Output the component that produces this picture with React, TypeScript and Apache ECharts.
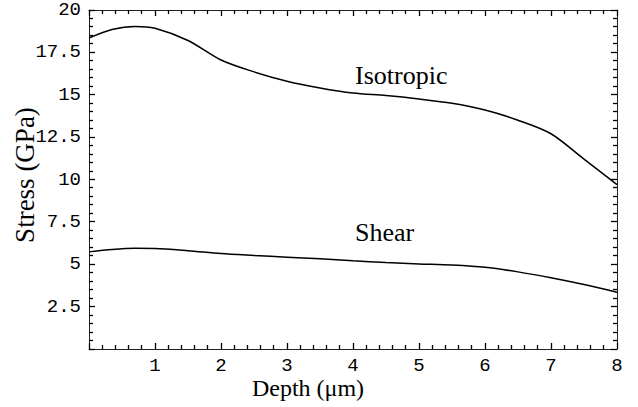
import React, { useEffect, useRef } from "react";
import * as echarts from "echarts";

const depth = [0, 0.35, 0.7, 1, 1.5, 2, 2.5, 3, 3.5, 4, 4.5, 5, 5.5, 6, 6.5, 7, 7.5, 8];
const isotropic = [18.35, 18.85, 19.03, 18.92, 18.2, 17.05, 16.35, 15.8, 15.4, 15.1, 14.95, 14.75, 14.5, 14.1, 13.5, 12.7, 11.2, 9.7];
const shear = [5.73, 5.87, 5.94, 5.93, 5.8, 5.63, 5.52, 5.42, 5.32, 5.2, 5.1, 5.02, 4.95, 4.82, 4.55, 4.2, 3.8, 3.35];
const xTicks = [0, 1, 2, 3, 4, 5, 6, 7, 8];
const yTicks = [0, 2.5, 5, 7.5, 10, 12.5, 15, 17.5, 20];
const minorSplit = 5;

const mono = "'Liberation Mono', 'DejaVu Sans Mono', monospace";
const serif = "'Liberation Serif', 'DejaVu Serif', serif";

export default function App() {
  const ref = useRef<HTMLDivElement>(null);
  useEffect(() => {
    if (!ref.current) return;
    const chart = echarts.init(ref.current, undefined, { renderer: "svg" });
    const xMin = xTicks[0], xMax = xTicks[xTicks.length - 1];
    const yMin = yTicks[0], yMax = yTicks[yTicks.length - 1];

    // tick list: [axis (0=x,1=y), value, major(1)/minor(0)]
    const tickData: number[][] = [];
    const addTicks = (axis: number, ticks: number[]) => {
      for (let i = 0; i < ticks.length; i++) {
        tickData.push([axis, ticks[i], 1]);
        if (i < ticks.length - 1) {
          const step = (ticks[i + 1] - ticks[i]) / minorSplit;
          for (let k = 1; k < minorSplit; k++) tickData.push([axis, ticks[i] + step * k, 0]);
        }
      }
    };
    addTicks(0, xTicks);
    addTicks(1, yTicks);

    const mk = (pos: string, min: number, max: number, interval: number, label: any) => ({
      type: "value",
      position: pos,
      min,
      max,
      interval,
      axisLine: { show: true, onZero: false, lineStyle: { color: "#222", width: 1 } },
      axisTick: { show: false },
      minorTick: { show: false },
      splitLine: { show: false },
      minorSplitLine: { show: false },
      axisLabel: label,
    });
    const xLabel = {
      show: true,
      fontFamily: mono,
      fontSize: 19,
      color: "#000",
      margin: 7,
      formatter: (v: number) => (v === xMin ? "" : String(v)),
    };
    const yLabel = {
      show: true,
      fontFamily: mono,
      fontSize: 19,
      color: "#000",
      margin: 8,
      formatter: (v: number) => (v === yMin ? "" : String(v)),
    };

    const crisp = (v: number) => Math.round(v - 0.5) + 0.5;

    chart.setOption({
      animation: false,
      backgroundColor: "#fff",
      grid: { left: 89, right: 21, top: 10, bottom: 58, containLabel: false },
      xAxis: [mk("bottom", xMin, xMax, 1, xLabel), mk("top", xMin, xMax, 1, { show: false })],
      yAxis: [mk("left", yMin, yMax, 2.5, yLabel), mk("right", yMin, yMax, 2.5, { show: false })],
      series: [
        {
          name: "Isotropic",
          type: "line",
          xAxisIndex: 0,
          yAxisIndex: 0,
          data: depth.map((d, i) => [d, isotropic[i]]),
          smooth: 0.3,
          showSymbol: false,
          symbol: "none",
          lineStyle: { color: "#000", width: 1.5 },
        },
        {
          name: "Shear",
          type: "line",
          xAxisIndex: 0,
          yAxisIndex: 0,
          data: depth.map((d, i) => [d, shear[i]]),
          smooth: 0.3,
          showSymbol: false,
          symbol: "none",
          lineStyle: { color: "#000", width: 1.5 },
        },
        {
          name: "ticks",
          type: "custom",
          xAxisIndex: 0,
          yAxisIndex: 0,
          clip: false,
          silent: true,
          data: tickData,
          renderItem: (_params: any, api: any) => {
            const axis = api.value(0);
            const v = api.value(1);
            const len = api.value(2) === 1 ? 6 : 4;
            const style = { stroke: "#000", lineWidth: 1.3 };
            if (axis === 0) {
              const b = api.coord([v, yMin]);
              const t = api.coord([v, yMax]);
              const x = crisp(b[0]);
              return {
                type: "group",
                children: [
                  { type: "line", shape: { x1: x, y1: b[1], x2: x, y2: b[1] - len }, style },
                  { type: "line", shape: { x1: x, y1: t[1], x2: x, y2: t[1] + len }, style },
                ],
              };
            }
            const l = api.coord([xMin, v]);
            const r = api.coord([xMax, v]);
            const y = crisp(l[1]);
            return {
              type: "group",
              children: [
                { type: "line", shape: { x1: l[0], y1: y, x2: l[0] + len, y2: y }, style },
                { type: "line", shape: { x1: r[0], y1: y, x2: r[0] - len, y2: y }, style },
              ],
            };
          },
        },
      ],
      graphic: [
        { type: "text", x: 355, y: 75, style: { text: "Isotropic", font: `26px ${serif}`, fill: "#000", textAlign: "left", textVerticalAlign: "middle" } },
        { type: "text", x: 355, y: 232, style: { text: "Shear", font: `26px ${serif}`, fill: "#000", textAlign: "left", textVerticalAlign: "middle" } },
        { type: "text", x: 308, y: 388, style: { text: "Depth (\u03bcm)", font: `24px ${serif}`, fill: "#000", textAlign: "center", textVerticalAlign: "middle" } },
        { type: "text", x: 25, y: 175, rotation: Math.PI / 2, style: { text: "Stress (GPa)", font: `27px ${serif}`, fill: "#000", textAlign: "center", textVerticalAlign: "middle" } },
      ],
    });
    return () => chart.dispose();
  }, []);
  return <div ref={ref} style={{ position: "fixed", left: 0, top: 0, width: 638, height: 407 }} />;
}
